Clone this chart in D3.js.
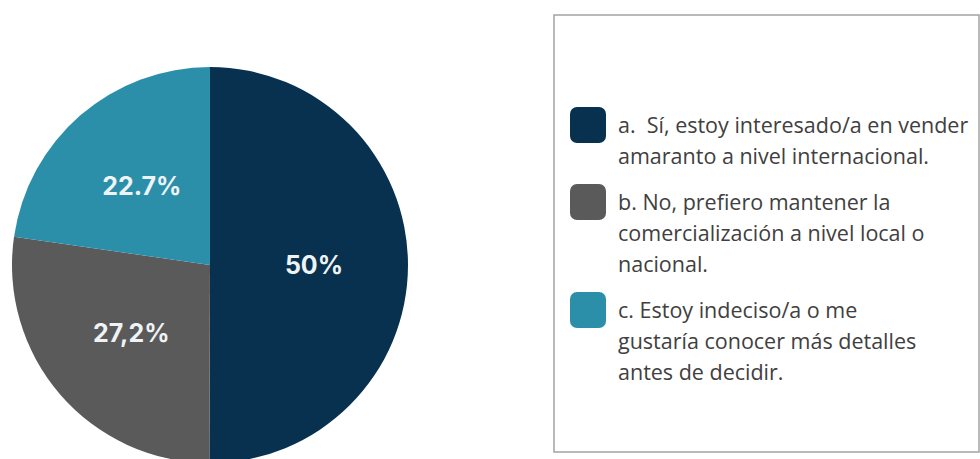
<!DOCTYPE html>
<html>
<head>
<meta charset="utf-8">
<script src="https://cdn.jsdelivr.net/npm/d3@7"></script>
<style>
  html, body { margin: 0; padding: 0; background: #ffffff; }
  svg { display: block; }
</style>
</head>
<body>
<svg id="chart" width="980" height="459"></svg>
<script>
// Survey answers: interest in selling amaranth abroad
const categories = ["a", "b", "c"];
const values = [50, 27.2, 22.7];
const valueLabels = ["50%", "27,2%", "22.7%"];
const colors = ["#08314f", "#5a5a5a", "#2b8fa9"];
const legendLines = [
  ["a.  Sí, estoy interesado/a en vender", "amaranto a nivel internacional."],
  ["b. No, prefiero mantener la", "comercialización a nivel local o", "nacional."],
  ["c. Estoy indeciso/a o me", "gustaría conocer más detalles", "antes de decidir."]
];

const svg = d3.select("#chart");

// ---- Pie ----
const cx = 210, cy = 265, radius = 198;
const pie = d3.pie().sort(null).value(d => d.value).startAngle(0).endAngle(2 * Math.PI);
const data = categories.map((c, i) => ({ key: c, value: values[i], label: valueLabels[i], color: colors[i] }));
const arcs = pie(data);

const arc = d3.arc().innerRadius(0).outerRadius(radius);
const labelArc = d3.arc().innerRadius(104).outerRadius(104);

const g = svg.append("g").attr("transform", `translate(${cx},${cy})`);

g.selectAll("path.slice")
  .data(arcs)
  .join("path")
  .attr("class", "slice")
  .attr("d", arc)
  .attr("fill", d => d.data.color);

g.selectAll("text.value")
  .data(arcs)
  .join("text")
  .attr("class", "value")
  .attr("transform", d => `translate(${labelArc.centroid(d)})`)
  .attr("text-anchor", "middle")
  .attr("dominant-baseline", "central")
  .attr("font-family", "Inter, 'Open Sans', sans-serif")
  .attr("font-weight", 700)
  .attr("font-size", 25)
  .attr("fill", "#eef3f5")
  .text(d => d.data.label);

// ---- Legend ----
const box = { x: 554, y: 15, w: 425, h: 437 };
svg.append("rect")
  .attr("x", box.x).attr("y", box.y)
  .attr("width", box.w).attr("height", box.h)
  .attr("fill", "#ffffff")
  .attr("stroke", "#a3a3a3")
  .attr("stroke-width", 1.5);

const lineHeight = 31, itemGap = 15, swatch = 36;
let baseline = 133;
const legend = svg.append("g");
legendLines.forEach((lines, i) => {
  const item = legend.append("g");
  item.append("rect")
    .attr("x", 570).attr("y", baseline - 26)
    .attr("width", swatch).attr("height", swatch)
    .attr("rx", 7).attr("ry", 7)
    .attr("fill", colors[i]);
  const t = item.append("text")
    .attr("font-family", "'Open Sans', sans-serif")
    .attr("font-size", 21.5)
    .attr("fill", "#404040");
  lines.forEach((ln, j) => {
    t.append("tspan")
      .attr("x", 618)
      .attr("y", baseline + j * lineHeight)
      .style("white-space", "pre")
      .text(ln);
  });
  baseline += lines.length * lineHeight + itemGap;
});
</script>
</body>
</html>
